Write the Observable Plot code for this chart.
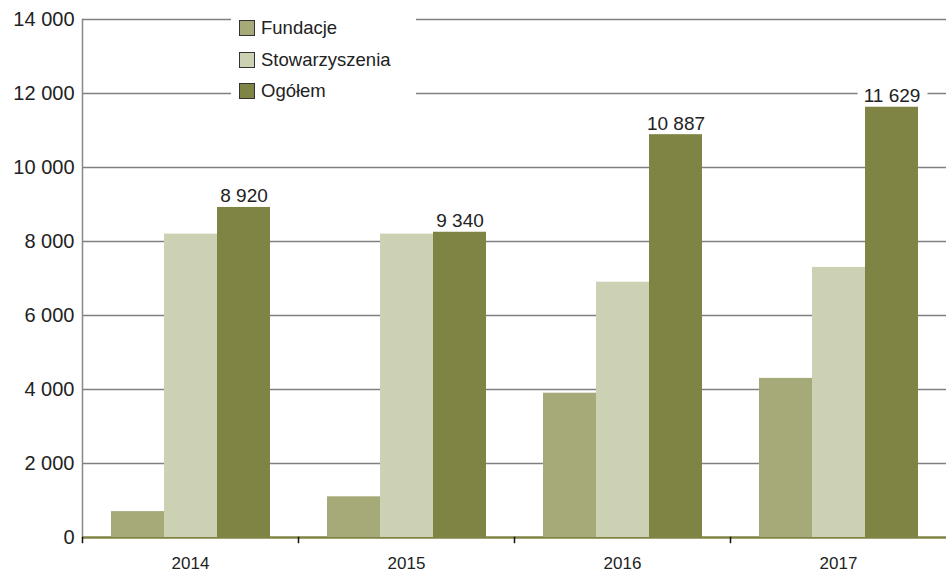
<!DOCTYPE html>
<html><head><meta charset="utf-8">
<script src="https://cdn.jsdelivr.net/npm/d3@7"></script>
<script src="https://cdn.jsdelivr.net/npm/@observablehq/plot@0.6"></script>
<style>
body{margin:0;background:#fff;font-family:"Liberation Sans",Arial,sans-serif;}
#wrap{position:relative;width:946px;height:574px;}
#legend{position:absolute;left:231px;top:12px;width:185px;height:90px;background:#fff;}
.item{position:absolute;left:8px;height:20px;display:flex;align-items:center;font-size:18.5px;color:#222;white-space:nowrap;}
.sw{width:14px;height:14px;border:1px solid #333;margin-right:6px;flex:none;}
</style></head><body>
<div id="wrap"><div id="chart"></div><div id="legend"></div></div>
<script>
const years = ["2014", "2015", "2016", "2017"];
const series = ["Fundacje", "Stowarzyszenia", "Ogółem"];
const fundacje = [700, 1100, 3900, 4300];
const stowarzyszenia = [8200, 8200, 6900, 7300];
const ogolem = [8920, 8250, 10887, 11629];
const ogolemLabels = ["8 920", "9 340", "10 887", "11 629"];
const colors = ["#a6aa78", "#cdd1b3", "#7f8445"];
const yTicks = [0, 2000, 4000, 6000, 8000, 10000, 12000, 14000];

const fmt = d3.formatLocale({thousands: " ", grouping: [3], decimal: ",", currency: ["", ""]}).format(",d");

const valuesBySeries = [fundacje, stowarzyszenia, ogolem];
const data = [];
years.forEach((yr, i) => series.forEach((s, j) => data.push({year: yr, series: s, value: valuesBySeries[j][i]})));
const labels = years.map((yr, i) => ({year: yr, series: "Ogółem", value: ogolem[i], label: ogolemLabels[i]}));

const labelOpts = {fx: "year", x: "series", y: "value", text: "label", dy: -5, lineAnchor: "bottom", fontSize: 19};

const chart = Plot.plot({
  width: 946,
  height: 574,
  marginTop: 19,
  marginBottom: 37,
  marginLeft: 82,
  marginRight: 0,
  style: {fontFamily: "'Liberation Sans', Arial, sans-serif", color: "#222", background: "#fff"},
  fx: {domain: years, padding: 0, label: null},
  x: {domain: series, paddingInner: 0, paddingOuter: 0.525, axis: null},
  y: {domain: [0, 14000], label: null},
  color: {domain: series, range: colors},
  marks: [
    Plot.ruleY(yTicks.filter(d => d > 0), {stroke: "#808080", strokeWidth: 1.5}),
    Plot.text(labels, {...labelOpts, fill: "none", stroke: "#fff", strokeWidth: 16}),
    Plot.ruleY([0], {stroke: colors[2], strokeWidth: 2.5}),
    Plot.barY(data, {fx: "year", x: "series", y: "value", fill: "series"}),
    Plot.frame({anchor: "left", facetAnchor: "left", stroke: "#888", strokeWidth: 1.5}),
    Plot.frame({anchor: "left", stroke: "#111", strokeWidth: 1.5, insetTop: 518, insetBottom: -5}),
    Plot.text(labels, {...labelOpts, fill: "#222"}),
    Plot.axisY(yTicks, {tickSize: 0, tickPadding: 8, tickFormat: fmt, fontSize: 20, label: null, fill: "#222"}),
    Plot.axisFx({anchor: "bottom", tickSize: 0, tickPadding: 19, fontSize: 17, label: null, fill: "#222"})
  ]
});
document.getElementById("chart").appendChild(chart);

const legend = document.getElementById("legend");
series.forEach((s, i) => {
  const it = document.createElement("div");
  it.className = "item";
  it.style.top = (6 + i * 31.5) + "px";
  const sw = document.createElement("span");
  sw.className = "sw";
  sw.style.background = colors[i];
  const t = document.createElement("span");
  t.textContent = s;
  it.appendChild(sw); it.appendChild(t);
  legend.appendChild(it);
});
</script>
</body></html>
